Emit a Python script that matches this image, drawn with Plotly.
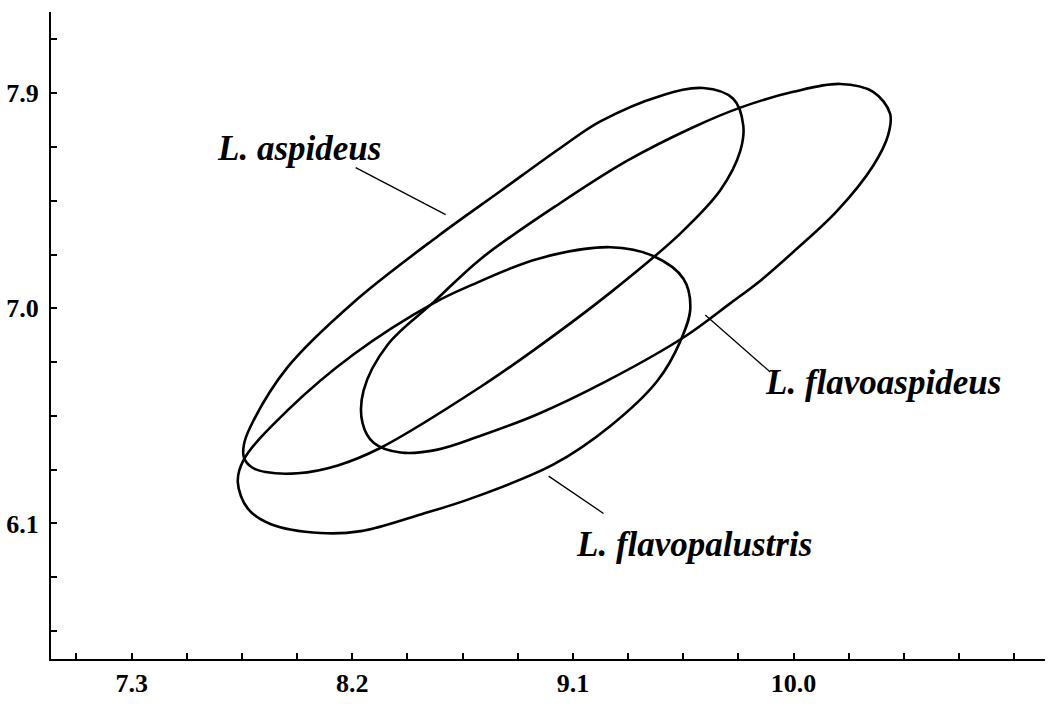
import plotly.graph_objects as go

# Outline of each species' ellipse, traced point by point (x, y)
aspideus_x = [8.548, 8.206, 7.937, 7.786, 7.758, 7.758, 7.790, 7.847, 7.978, 8.141,
              8.316, 8.724, 8.956, 9.254, 9.539, 9.702, 9.783, 9.795, 9.754, 9.632,
              9.457, 9.212, 9.049, 8.805, 8.548]
aspideus_y = [7.301, 7.026, 6.755, 6.508, 6.430, 6.376, 6.335, 6.315, 6.310, 6.343,
              6.417, 6.672, 6.837, 7.067, 7.314, 7.495, 7.659, 7.766, 7.877, 7.922,
              7.889, 7.782, 7.671, 7.491, 7.301]

flavoaspideus_x = [8.724, 8.532, 8.345, 8.246, 8.242, 8.287, 8.397, 8.548, 8.724, 8.956,
                   9.225, 9.551, 9.743, 9.865, 9.999, 10.178, 10.325, 10.386, 10.394,
                   10.325, 10.190, 9.999, 9.783, 9.591, 9.322, 9.049, 8.724]
flavoaspideus_y = [7.207, 7.026, 6.849, 6.656, 6.520, 6.438, 6.397, 6.409, 6.467, 6.557,
                   6.689, 6.878, 7.022, 7.116, 7.236, 7.408, 7.597, 7.725, 7.815,
                   7.906, 7.939, 7.906, 7.840, 7.758, 7.618, 7.441, 7.207]

flavopalustris_x = [8.683, 8.532, 8.206, 7.937, 7.758, 7.733, 7.774, 7.868, 8.072, 8.235,
                    8.479, 8.683, 9.021, 9.253, 9.445, 9.538, 9.579, 9.551, 9.428, 9.253,
                    8.956, 8.683]
flavopalustris_y = [7.096, 7.022, 6.808, 6.574, 6.368, 6.273, 6.162, 6.097, 6.060, 6.068,
                    6.138, 6.204, 6.347, 6.508, 6.697, 6.862, 7.000, 7.124, 7.219, 7.256,
                    7.207, 7.096]

species = ["L. aspideus", "L. flavoaspideus", "L. flavopalustris"]

# Axis labels
x_tick_vals = [7.3, 8.2, 9.1, 10.0]
x_tick_text = ["7.3", "8.2", "9.1", "10.0"]
y_tick_vals = [6.1, 7.0, 7.9]
y_tick_text = ["6.1", "7.0", "7.9"]

fig = go.Figure()
for name, xs, ys in [
    (species[0], aspideus_x, aspideus_y),
    (species[1], flavoaspideus_x, flavoaspideus_y),
    (species[2], flavopalustris_x, flavopalustris_y),
]:
    fig.add_trace(go.Scatter(
        x=xs, y=ys, mode="lines", name=name,
        line=dict(color="black", width=2.6, shape="spline", smoothing=1.0),
        hoverinfo="skip", showlegend=False,
    ))

# Species labels with leader lines
label_font = dict(family="Liberation Serif", size=35, color="black",
                  weight="bold", style="italic")
labels = [
    (species[0], 7.639, 7.671, (8.214, 7.589, 8.581, 7.392)),
    (species[1], 9.877, 6.689, (9.640, 6.972, 9.905, 6.734)),
    (species[2], 9.106, 6.014, (9.001, 6.298, 9.225, 6.142)),
]
for text, tx, ty, (x0, y0, x1, y1) in labels:
    fig.add_annotation(x=tx, y=ty, xref="x", yref="y", text=text, showarrow=False,
                       xanchor="left", yanchor="middle", font=label_font)
    fig.add_shape(type="line", x0=x0, y0=y0, x1=x1, y1=y1, xref="x", yref="y",
                  line=dict(color="black", width=1.3))

tick_font = dict(family="Liberation Serif", size=26, color="black", weight="bold")

fig.update_xaxes(
    range=[6.971, 11.026], showgrid=False, zeroline=False,
    showline=True, linecolor="black", linewidth=2,
    tickmode="array", tickvals=x_tick_vals, ticktext=x_tick_text,
    ticks="inside", ticklen=6, tickwidth=1.5, tickcolor="black",
    tickfont=tick_font,
    minor=dict(tick0=7.3, dtick=0.225, ticks="inside", ticklen=6,
               tickwidth=1.5, tickcolor="black", showgrid=False),
)
fig.update_yaxes(
    range=[5.533, 8.240], showgrid=False, zeroline=False,
    showline=True, linecolor="black", linewidth=2,
    tickmode="array", tickvals=y_tick_vals, ticktext=y_tick_text,
    ticks="inside", ticklen=6, tickwidth=1.5, tickcolor="black",
    tickfont=tick_font, ticklabelstandoff=5,
    minor=dict(tick0=7.0, dtick=0.225, ticks="inside", ticklen=6,
               tickwidth=1.5, tickcolor="black", showgrid=False),
)

fig.update_layout(
    width=1051, height=704,
    margin=dict(l=50, r=6, t=12, b=34),
    plot_bgcolor="white", paper_bgcolor="white",
)

fig.write_html("out.html")
